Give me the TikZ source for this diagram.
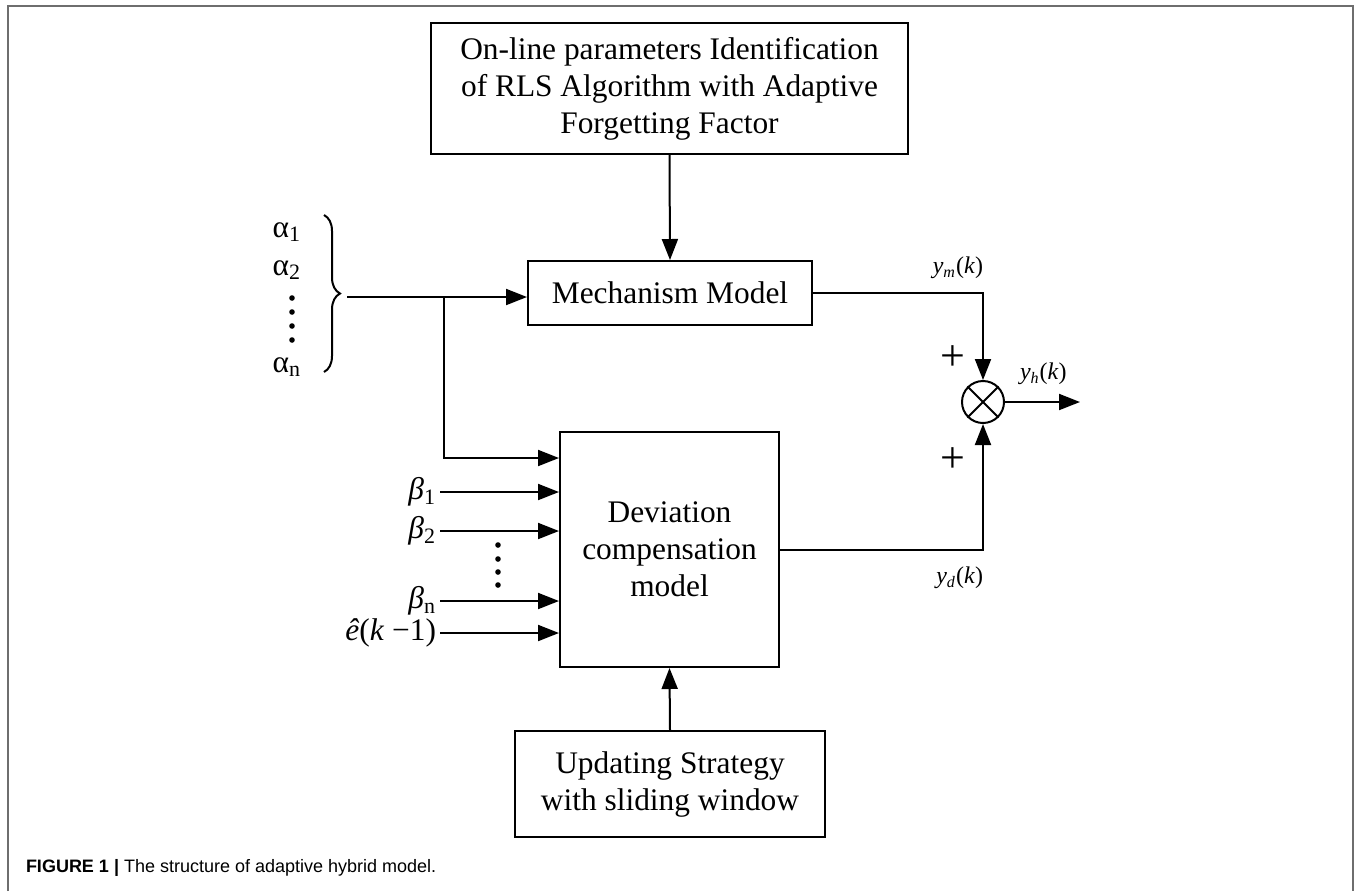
\documentclass[tikz,border=0pt]{standalone}
\usepackage{fontspec}
\setmainfont{Liberation Serif}
\newfontfamily\capfont{Liberation Sans}
\usetikzlibrary{arrows.meta,decorations.pathreplacing}

\begin{document}
\begin{tikzpicture}[x=0.5pt,y=-0.5pt,line width=1pt,
        >={Triangle[length=10.5pt,width=8pt]},
        blockbox/.style={draw,align=center,inner sep=0pt,font=\fontsize{15.7}{18.5}\selectfont},
        siglabel/.style={font=\fontsize{15.7}{18}\selectfont,inner sep=1.5pt},
        outlabel/.style={font=\fontsize{12}{14}\selectfont,inner sep=0pt},
        pluslabel/.style={font=\fontsize{22}{22}\selectfont,inner sep=0pt}]
    \useasboundingbox (0,0) rectangle (1356,891);
    % frame
    \draw[color=black!57] (8,891) -- (8,6) -- (1353,6) -- (1353,891);

    % blocks
    \node[blockbox,minimum width=238.5pt,minimum height=65.5pt] (param) at (669.5,88.5)
        {On-line parameters Identification\\of RLS Algorithm with Adaptive\\Forgetting Factor};
    \node[blockbox,minimum width=142pt,minimum height=32pt] (mech) at (670,293) {Mechanism Model};
    \node[blockbox,minimum width=109.5pt,minimum height=117.5pt] (dev) at (669.5,549.5)
        {Deviation\\compensation\\model};
    \node[blockbox,minimum width=155pt,minimum height=53pt] (update) at (670,784)
        {Updating Strategy\\with sliding window};
    \node[draw,circle,minimum size=21pt,inner sep=0pt] (sum) at (983,402) {};
    \draw (sum.north west) -- (sum.south east);
    \draw (sum.north east) -- (sum.south west);

    % alpha inputs
    \node[siglabel,anchor=east] (a1) at (305,232) {α\textsubscript{1}};
    \node[siglabel,anchor=east] (a2) at (305,270) {α\textsubscript{2}};
    \node[siglabel,anchor=east] (an) at (305,367) {α\textsubscript{n}};
    \foreach \y in {298,312,326,340}
        \fill (292,\y) circle (2.8);
    \draw[decorate,decoration={brace,amplitude=8pt}] (324,215) -- (324,372);
    \coordinate (alphatip) at (347,297);
    \coordinate (split) at (444,297);
    \draw[->] (alphatip) -- (alphatip -| mech.west);
    \coordinate (devin) at (444,458);
    \draw[->] (split) -- (devin) -- (devin -| dev.west);

    % beta inputs
    \node[siglabel,anchor=east] (b1) at (440,492) {\textit{β}\textsubscript{1}};
    \node[siglabel,anchor=east] (b2) at (440,531) {\textit{β}\textsubscript{2}};
    \node[siglabel,anchor=east] (bn) at (440,601) {\textit{β}\textsubscript{n}};
    \node[siglabel,anchor=east] (ek) at (440,633) {\textit{\^{e}}(\textit{k} −1)};
    \foreach \y in {545,559,572,585}
        \fill (498,\y) circle (2.8);
    \foreach \s in {b1,b2,bn,ek}
        \draw[->] (\s.east) -- (\s.east -| dev.west);

    % outputs
    \draw[->] (mech.east) -| (sum.north);
    \draw[->] (dev.east) -| (sum.south);
    \coordinate (out) at (1080,402);
    \draw[->] (sum.east) -- (out);
    \draw[->] (param.south) -- (mech.north);
    \draw[->] (update.north) -- (dev.south);

    \node[outlabel,anchor=east] (ym) at (984,268) {\textit{y}\textsubscript{\textit{m}}(\textit{k})};
    \node[outlabel,anchor=east] (yd) at (984,578) {\textit{y}\textsubscript{\textit{d}}(\textit{k})};
    \node[outlabel,anchor=west] (yh) at (1019,374) {\textit{y}\textsubscript{\textit{h}}(\textit{k})};
    \node[pluslabel] (p1) at (953,358) {+};
    \node[pluslabel] (p2) at (953,460) {+};

    % caption
    \node[anchor=west,inner sep=0pt,font=\capfont\fontsize{9}{11}\selectfont] (cap) at (25,868)
        {\textbf{FIGURE 1 |} The structure of adaptive hybrid model.};
\end{tikzpicture}
\end{document}
